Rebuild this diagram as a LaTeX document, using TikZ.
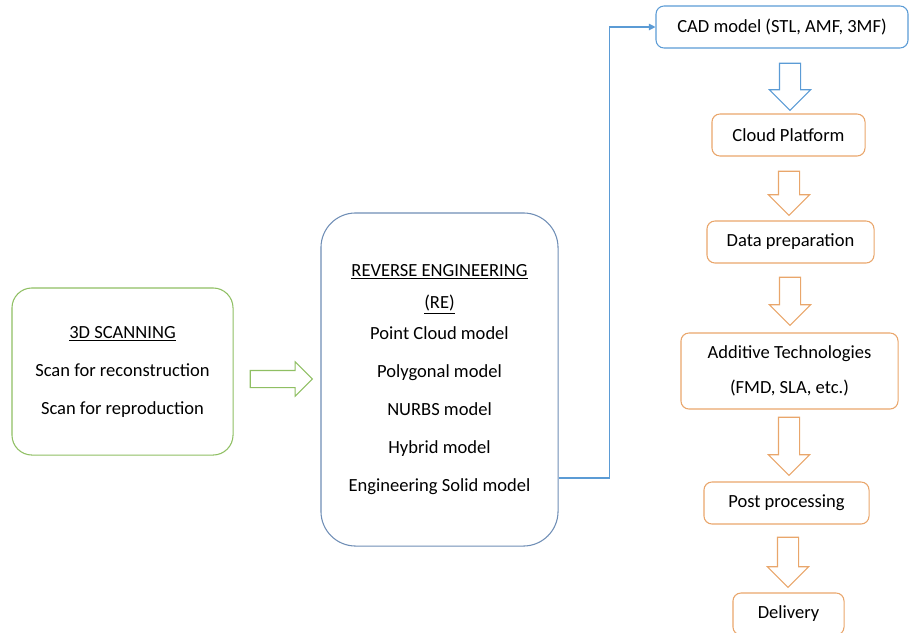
\documentclass[tikz,border=0pt]{standalone}
\usepackage{fontspec}
\setmainfont{Carlito}
\definecolor{scangreen}{HTML}{8FBF63}
\definecolor{reblue}{HTML}{6E8DB5}
\definecolor{cadblue}{HTML}{5B9BD5}
\definecolor{steporange}{HTML}{E9A66B}
\usetikzlibrary{shapes.arrows,arrows.meta,positioning,calc}

\begin{document}
\begin{tikzpicture}[
  x=0.75pt, y=-0.75pt,
  stepbox/.style={rounded corners=6pt, draw=steporange, line width=0.8pt,
    font=\fontsize{13.9}{16.7}\selectfont, minimum height=31.5pt, align=center},
  bigbox/.style={line width=0.8pt, align=center,
    font=\fontsize{13.9}{28.5}\selectfont},
  downarrow/.style={single arrow, draw=steporange, line width=0.8pt,
    shape border rotate=270, inner sep=7.5pt, single arrow head extend=7.5pt}
]
  \useasboundingbox (0,0) rectangle (910,632);

  % scanning and reverse engineering
  \node[bigbox, draw=scangreen, rounded corners=15pt, minimum width=165.8pt,
    minimum height=125.3pt] (scan) at (122.5,371.5)
    {\underline{3D SCANNING}\\ Scan for reconstruction\\ Scan for reproduction};
  \node[bigbox, draw=reblue, rounded corners=26pt, minimum width=177.8pt,
    minimum height=249.8pt] (re) at (439.5,379.5)
    {\underline{REVERSE ENGINEERING}\\[-4.5pt] \underline{(RE)}\\[-5.25pt]
     Point Cloud model\\ Polygonal model\\ NURBS model\\ Hybrid model\\
     Engineering Solid model};
  \node[single arrow, draw=scangreen, line width=0.8pt, inner sep=6pt,
    single arrow head extend=6.4pt, minimum height=46.5pt] (scanarrow) at (277,379) {};

  % production chain
  \node[stepbox, draw=cadblue, minimum width=189pt] (cad) at (782,27) {CAD model (STL, AMF, 3MF)};
  \node[stepbox, minimum width=114.8pt] (cloud) at (788.5,135) {Cloud Platform};
  \node[stepbox, minimum width=125.3pt] (prep) at (790.5,242) {Data preparation};
  \node[stepbox, minimum width=162.8pt, minimum height=57pt] (additive) at (789.5,371)
    {Additive Technologies\\[9.5pt] (FMD, SLA, etc.)};
  \node[stepbox, minimum width=123.8pt] (post) at (786.5,503) {Post processing};
  \node[stepbox, minimum width=83.3pt] (delivery) at (788.5,614) {Delivery};

  % hollow arrows
  \node[downarrow, draw=cadblue, minimum height=35.3pt] (a1) at (790,81.5) {};
  \node[downarrow, minimum height=33pt] (a2) at (789,188) {};
  \node[downarrow, minimum height=36pt] (a3) at (790,296) {};
  \node[downarrow, minimum height=43.5pt] (a4) at (789,441) {};
  \node[downarrow, minimum height=37.5pt] (a5) at (788,557) {};

  % link to the CAD model
  \coordinate (reout) at ($(re.east)+(0,98.5)$);
  \draw[-{Triangle[length=5pt,width=5pt]}, cadblue, line width=0.8pt]
    (reout) -- ++(51,0) |- (cad.west);
\end{tikzpicture}
\end{document}
